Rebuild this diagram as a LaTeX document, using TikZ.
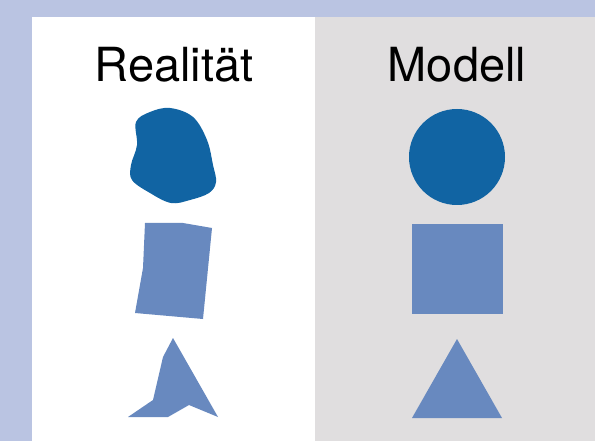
\documentclass[tikz,border=0pt]{standalone}
\usepackage{fontspec}
\setmainfont{TeX Gyre Heros}
\definecolor{bgblue}{HTML}{BAC4E2}
\definecolor{panelgray}{HTML}{E0DEDF}
\definecolor{darkblue}{HTML}{1164A3}
\definecolor{lightblue}{HTML}{6889BF}
\begin{document}
\begin{tikzpicture}[
        x=1pt, y=-1pt,
        title/.style={anchor=base, inner sep=0pt, font=\fontsize{47}{50}\selectfont},
        darkn/.style={fill=darkblue, draw=none},
        lightn/.style={fill=lightblue, draw=none},
    ]
    \useasboundingbox (0,0) rectangle (595,441);
    % panels
    \fill[bgblue] (0,0) rectangle (595,441);
    \fill[white] (32,17) rectangle (315,441);
    \fill[panelgray] (315,17) rectangle (595,441);
    % titles
    \node[title](real) at (174,82){Realität};
    \node[title](model) at (457,82){Modell};
    % reality
    \fill[darkn] plot[smooth cycle, tension=0.6] coordinates {
        (170,108) (193,117) (207,140) (213,165) (216,182) (209,193)
        (190,200) (171,203) (150,193) (132,180) (131,165) (137,145)
        (136,122) (150,112)};
    \fill[lightn] (145,223) -- (183,223) -- (212,228) -- (203,319)
        -- (135,313) -- (143,268) -- cycle;
    \fill[lightn] (173,338) -- (218,417) -- (189,405) -- (168,417)
        -- (128,417) -- (153,400) -- (163,357) -- cycle;
    % model
    \fill[darkn] (457,157) circle (48);
    \fill[lightn] (412,224) rectangle (503,314);
    \fill[lightn] (457,339) -- (502,418) -- (412,418) -- cycle;
\end{tikzpicture}
\end{document}
